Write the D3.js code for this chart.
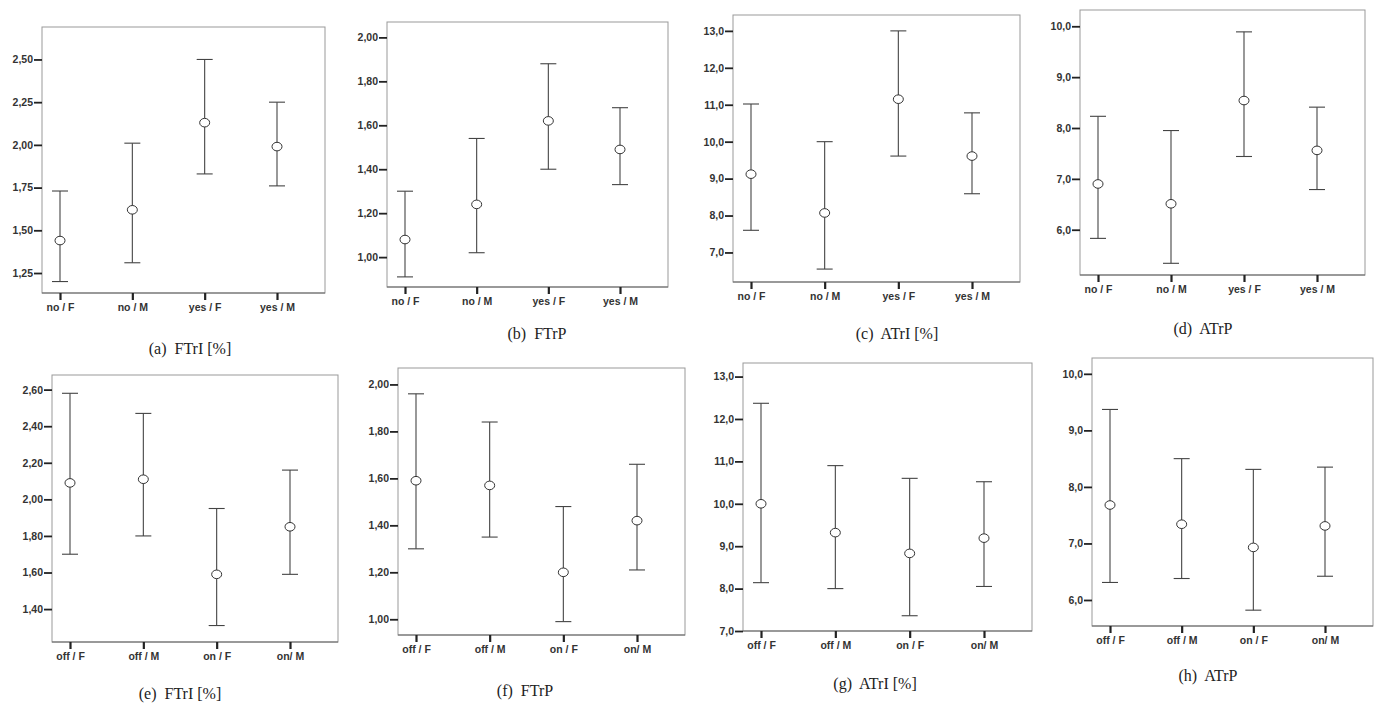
<!DOCTYPE html>
<html>
<head>
<meta charset="utf-8">
<script src="https://cdn.jsdelivr.net/npm/d3@7"></script>
<style>
  body { margin: 0; background: #fff; }
  svg { display: block; }
  .caption { font-family: "Liberation Serif", "DejaVu Serif", serif; font-size: 16px; fill: #222; white-space: pre; }
  .tick-label { font-family: "Liberation Sans", Arial, sans-serif; font-size: 10.5px; font-weight: bold; fill: #333; }
</style>
</head>
<body>
<div id="chart"></div>
<script>
// group labels
const topGroups = ["no / F", "no / M", "yes / F", "yes / M"];
const bottomGroups = ["off / F", "off / M", "on / F", "on/ M"];

// (a) FTrI [%]
const meanA = [1.44, 1.62, 2.13, 1.99];
const lowA  = [1.20, 1.31, 1.83, 1.76];
const highA = [1.73, 2.01, 2.50, 2.25];
const ticksA = [1.25, 1.50, 1.75, 2.00, 2.25, 2.50];

// (b) FTrP
const meanB = [1.08, 1.24, 1.62, 1.49];
const lowB  = [0.91, 1.02, 1.40, 1.33];
const highB = [1.30, 1.54, 1.88, 1.68];
const ticksB = [1.00, 1.20, 1.40, 1.60, 1.80, 2.00];

// (c) ATrI [%]
const meanC = [9.12, 8.07, 11.15, 9.61];
const lowC  = [7.60, 6.55, 9.61, 8.59];
const highC = [11.02, 10.00, 13.00, 10.78];
const ticksC = [7, 8, 9, 10, 11, 12, 13];

// (d) ATrP
const meanD = [6.90, 6.51, 8.54, 7.56];
const lowD  = [5.83, 5.34, 7.44, 6.79];
const highD = [8.23, 7.95, 9.89, 8.41];
const ticksD = [6, 7, 8, 9, 10];

// (e) FTrI [%]
const meanE = [2.09, 2.11, 1.59, 1.85];
const lowE  = [1.70, 1.80, 1.31, 1.59];
const highE = [2.58, 2.47, 1.95, 2.16];
const ticksE = [1.40, 1.60, 1.80, 2.00, 2.20, 2.40, 2.60];

// (f) FTrP
const meanF = [1.59, 1.57, 1.20, 1.42];
const lowF  = [1.30, 1.35, 0.99, 1.21];
const highF = [1.96, 1.84, 1.48, 1.66];
const ticksF = [1.00, 1.20, 1.40, 1.60, 1.80, 2.00];

// (g) ATrI [%]
const meanG = [10.0, 9.32, 8.83, 9.19];
const lowG  = [8.14, 8.00, 7.36, 8.05];
const highG = [12.37, 10.90, 10.60, 10.52];
const ticksG = [7, 8, 9, 10, 11, 12, 13];

// (h) ATrP
const meanH = [7.68, 7.34, 6.93, 7.31];
const lowH  = [6.31, 6.38, 5.82, 6.42];
const highH = [9.37, 8.50, 8.31, 8.35];
const ticksH = [6, 7, 8, 9, 10];

const comma2 = v => d3.format(".2f")(v).replace(".", ",");
const comma1 = v => d3.format(".1f")(v).replace(".", ",");

// panel frames: [left, top, right, bottom], y domain at [bottom, top], caption pos
const panels = [
  {groups: topGroups, mean: meanA, low: lowA, high: highA, ticks: ticksA, fmt: comma2,
   frame: [42, 27, 325, 293], domain: [1.133, 2.69], caption: "(a)  FTrI [%]", cap: [190, 354]},
  {groups: topGroups, mean: meanB, low: lowB, high: highB, ticks: ticksB, fmt: comma2,
   frame: [387, 22, 668, 287], domain: [0.864, 2.07], caption: "(b)  FTrP", cap: [537, 339]},
  {groups: topGroups, mean: meanC, low: lowC, high: highC, ticks: ticksC, fmt: comma1,
   frame: [733, 15, 1020, 282], domain: [6.2, 13.43], caption: "(c)  ATrI [%]", cap: [897, 339]},
  {groups: topGroups, mean: meanD, low: lowD, high: highD, ticks: ticksD, fmt: comma1,
   frame: [1080, 10, 1365, 275], domain: [5.11, 10.32], caption: "(d)  ATrP", cap: [1203, 334]},
  {groups: bottomGroups, mean: meanE, low: lowE, high: highE, ticks: ticksE, fmt: comma2,
   frame: [52, 375, 338, 642], domain: [1.22, 2.68], caption: "(e)  FTrI [%]", cap: [180, 699]},
  {groups: bottomGroups, mean: meanF, low: lowF, high: highF, ticks: ticksF, fmt: comma2,
   frame: [398, 368, 685, 635], domain: [0.933, 2.07], caption: "(f)  FTrP", cap: [525, 696]},
  {groups: bottomGroups, mean: meanG, low: lowG, high: highG, ticks: ticksG, fmt: comma1,
   frame: [743, 363, 1032, 631], domain: [7.0, 13.32], caption: "(g)  ATrI [%]", cap: [875, 689]},
  {groups: bottomGroups, mean: meanH, low: lowH, high: highH, ticks: ticksH, fmt: comma1,
   frame: [1092, 358, 1373, 626], domain: [5.54, 10.28], caption: "(h)  ATrP", cap: [1208, 681]}
];

const W = 1378, H = 706;
const svg = d3.select("#chart").append("svg")
  .attr("width", W)
  .attr("height", H);

panels.forEach(p => {
  const [l, t, r, b] = p.frame;
  const g = svg.append("g");

  const x = d3.scalePoint().domain(p.groups).range([l + 18, r - 48]);
  const y = d3.scaleLinear().domain(p.domain).range([b, t]);

  // frame
  g.append("rect")
    .attr("x", l).attr("y", t)
    .attr("width", r - l).attr("height", b - t)
    .attr("fill", "none")
    .attr("stroke", "#999")
    .attr("stroke-width", 1);
  g.append("line")
    .attr("x1", l).attr("x2", r).attr("y1", b).attr("y2", b)
    .attr("stroke", "#666").attr("stroke-width", 1.2);

  // y axis
  const yAxis = g.append("g")
    .attr("transform", `translate(${l},0)`)
    .call(d3.axisLeft(y).tickValues(p.ticks).tickFormat(p.fmt).tickSize(8).tickPadding(1));
  yAxis.select(".domain").remove();
  yAxis.selectAll(".tick line").attr("stroke", "#222").attr("stroke-width", 1.8);
  yAxis.selectAll(".tick text").attr("class", "tick-label").attr("font-size", null).attr("font-family", null);

  // x axis
  const xAxis = g.append("g")
    .attr("transform", `translate(0,${b})`)
    .call(d3.axisBottom(x).tickSize(7).tickPadding(4));
  xAxis.select(".domain").remove();
  xAxis.selectAll(".tick line").attr("stroke", "#222").attr("stroke-width", 2.2);
  xAxis.selectAll(".tick text").attr("class", "tick-label").attr("font-size", null).attr("font-family", null);

  const rows = p.groups.map((k, i) => ({key: k, mean: p.mean[i], low: p.low[i], high: p.high[i]}));

  // error bars
  const bars = g.append("g").selectAll("g").data(rows).join("g")
    .attr("stroke", "#444").attr("stroke-width", 1.1);
  bars.append("line")
    .attr("x1", d => x(d.key)).attr("x2", d => x(d.key))
    .attr("y1", d => y(d.low)).attr("y2", d => y(d.high));
  bars.append("line")
    .attr("x1", d => x(d.key) - 8).attr("x2", d => x(d.key) + 8)
    .attr("y1", d => y(d.high)).attr("y2", d => y(d.high));
  bars.append("line")
    .attr("x1", d => x(d.key) - 8).attr("x2", d => x(d.key) + 8)
    .attr("y1", d => y(d.low)).attr("y2", d => y(d.low));

  // means
  g.append("g").selectAll("ellipse").data(rows).join("ellipse")
    .attr("cx", d => x(d.key)).attr("cy", d => y(d.mean))
    .attr("rx", 5).attr("ry", 4.3)
    .attr("fill", "#fff")
    .attr("stroke", "#333")
    .attr("stroke-width", 1);

  svg.append("text")
    .attr("class", "caption")
    .attr("x", p.cap[0]).attr("y", p.cap[1])
    .attr("text-anchor", "middle")
    .text(p.caption);
});
</script>
</body>
</html>
